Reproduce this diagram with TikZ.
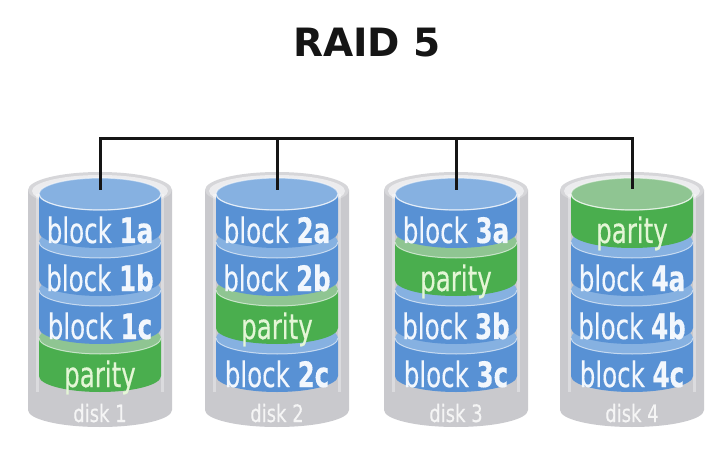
\documentclass[tikz,border=0pt]{standalone}
\usepackage{fontspec}
\setmainfont{DejaVu Sans}
\newfontfamily\lblfont[FakeBold=0.4]{DejaVu Sans}
\usepackage{graphicx}
\definecolor{bluebody}{HTML}{5891D4}
\definecolor{bluetop}{HTML}{86B1E1}
\definecolor{greenbody}{HTML}{4AAE4E}
\definecolor{greentop}{HTML}{8FC592}
\definecolor{greybody}{HTML}{C9C9CD}
\definecolor{greytop}{HTML}{D6D6D9}
\definecolor{greyin}{HTML}{ECECEE}
\definecolor{bustone}{HTML}{151515}
\definecolor{tb}{HTML}{F2F7FD}
\definecolor{tg}{HTML}{E4F6D6}
\newcommand\raidlayer[7]{%
  \fill[#3] (#1-61,#2) -- (#1-61,#2+38) arc[start angle=180,end angle=360,x radius=61pt,y radius=16pt] -- (#1+61,#2) -- cycle;
  \fill[#4] (#1,#2) ellipse[x radius=61pt,y radius=16pt];
  \draw[hl] (#1-61,#2) arc[start angle=180,end angle=360,x radius=61pt,y radius=16pt];
  \node[lbl,text=#7] (#6) at (#1,#2+49) {\scalebox{0.7}[1]{#5}};
}
\newcommand\raidcase[1]{%
  \fill[greybody] (#1-72,190) -- (#1-72,410) arc[start angle=180,end angle=360,x radius=72pt,y radius=17pt] -- (#1+72,190) -- cycle;
  \fill[greytop] (#1,190) ellipse[x radius=72pt,y radius=18pt];
  \fill[greyin] (#1,191) ellipse[x radius=68pt,y radius=16pt];
  \fill[white,opacity=0.35] (#1-64,194) rectangle (#1-61,392);
  \fill[white,opacity=0.35] (#1+61,194) rectangle (#1+64,392);
}
\begin{document}
\begin{tikzpicture}[x=1pt,y=-1pt,
  hl/.style={white,opacity=0.6,line width=1pt},
  rim/.style={white,opacity=0.5,line width=1.2pt},
  lbl/.style={anchor=base,inner sep=0pt,font=\lblfont\fontsize{35}{35}\selectfont},
  disklbl/.style={anchor=base,inner sep=0pt,text=white!92!gray,font=\lblfont\fontsize{24}{24}\selectfont},
  bus/.style={draw=bustone,line width=3pt}]
\useasboundingbox (0,0) rectangle (728,457);
\fill[white] (0,0) rectangle (728,457);
\node[anchor=base,inner sep=0pt,text=bustone,font=\bfseries\fontsize{39}{39}\selectfont] (title) at (367,57) {RAID 5};
% disk 1
\raidcase{100}
\raidlayer{100}{338}{greenbody}{greentop}{parity}{p1}{tg}
\raidlayer{100}{290}{bluebody}{bluetop}{block \textbf{1c}}{b1c}{tb}
\raidlayer{100}{242}{bluebody}{bluetop}{block \textbf{1b}}{b1b}{tb}
\raidlayer{100}{194}{bluebody}{bluetop}{block \textbf{1a}}{b1a}{tb}
\draw[rim] (100,194) ellipse[x radius=61pt,y radius=16pt];
\node[disklbl] (dl1) at (100,422) {\scalebox{0.75}[1]{disk 1}};
% disk 2
\raidcase{277}
\raidlayer{277}{338}{bluebody}{bluetop}{block \textbf{2c}}{b2c}{tb}
\raidlayer{277}{290}{greenbody}{greentop}{parity}{p2}{tg}
\raidlayer{277}{242}{bluebody}{bluetop}{block \textbf{2b}}{b2b}{tb}
\raidlayer{277}{194}{bluebody}{bluetop}{block \textbf{2a}}{b2a}{tb}
\draw[rim] (277,194) ellipse[x radius=61pt,y radius=16pt];
\node[disklbl] (dl2) at (277,422) {\scalebox{0.75}[1]{disk 2}};
% disk 3
\raidcase{456}
\raidlayer{456}{338}{bluebody}{bluetop}{block \textbf{3c}}{b3c}{tb}
\raidlayer{456}{290}{bluebody}{bluetop}{block \textbf{3b}}{b3b}{tb}
\raidlayer{456}{242}{greenbody}{greentop}{parity}{p3}{tg}
\raidlayer{456}{194}{bluebody}{bluetop}{block \textbf{3a}}{b3a}{tb}
\draw[rim] (456,194) ellipse[x radius=61pt,y radius=16pt];
\node[disklbl] (dl3) at (456,422) {\scalebox{0.75}[1]{disk 3}};
% disk 4
\raidcase{632}
\raidlayer{632}{338}{bluebody}{bluetop}{block \textbf{4c}}{b4c}{tb}
\raidlayer{632}{290}{bluebody}{bluetop}{block \textbf{4b}}{b4b}{tb}
\raidlayer{632}{242}{bluebody}{bluetop}{block \textbf{4a}}{b4a}{tb}
\raidlayer{632}{194}{greenbody}{greentop}{parity}{p4}{tg}
\draw[rim] (632,194) ellipse[x radius=61pt,y radius=16pt];
\node[disklbl] (dl4) at (632,422) {\scalebox{0.75}[1]{disk 4}};
% bus
\coordinate (bus1) at (100,139);
\coordinate (bus2) at (277,139);
\coordinate (bus3) at (456,139);
\coordinate (bus4) at (632,139);
\coordinate (top1) at (100,190);
\coordinate (top2) at (277,190);
\coordinate (top3) at (456,190);
\coordinate (top4) at (632,189);
\draw[bus,line cap=rect] (bus1) -- (bus4);
\draw[bus] (bus1) -- (top1);
\draw[bus] (bus2) -- (top2);
\draw[bus] (bus3) -- (top3);
\draw[bus] (bus4) -- (top4);
\end{tikzpicture}
\end{document}
